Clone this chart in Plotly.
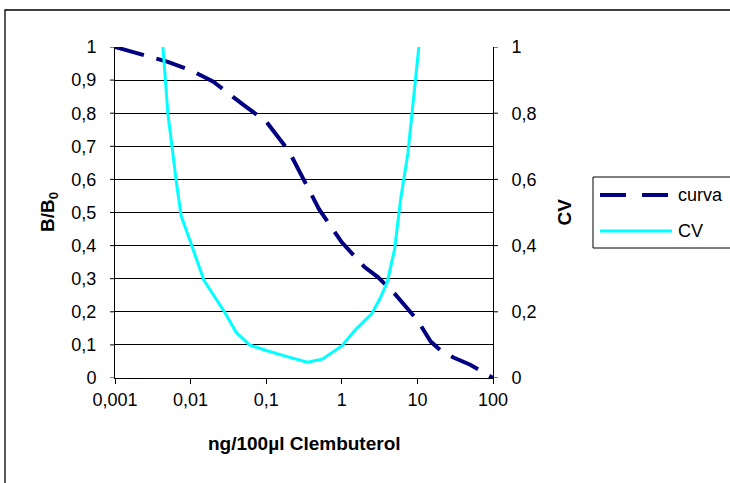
import plotly.graph_objects as go

# Competitive ELISA standard curve for clenbuterol (log dose axis)
dose_curva = [0.001, 0.002, 0.005, 0.01, 0.02, 0.05, 0.1, 0.2, 0.3, 0.5,
              1, 2, 3, 5, 10, 15, 20, 30, 50, 100]
b_b0 = [1.0, 0.98, 0.955, 0.93, 0.895, 0.825, 0.775, 0.685, 0.61, 0.51,
        0.41, 0.335, 0.305, 0.255, 0.175, 0.11, 0.085, 0.062, 0.04, 0.0]

# Coefficient of variation profile along the same dose range
dose_cv = [0.004, 0.005, 0.0065, 0.0075, 0.01, 0.015, 0.028, 0.04, 0.06, 0.1,
           0.2, 0.35, 0.55, 1.0, 1.5, 2.5, 3.2, 4.0, 5.0, 6.0, 7.5, 9.0, 11.0]
cv = [1.1, 0.8, 0.59, 0.49, 0.41, 0.295, 0.2, 0.138, 0.1, 0.083,
      0.063, 0.048, 0.057, 0.097, 0.145, 0.195, 0.24, 0.29, 0.39, 0.54,
      0.68, 0.85, 1.05]

x_tickvals = [0.001, 0.01, 0.1, 1, 10, 100]
x_ticktext = ["0,001", "0,01", "0,1", "1", "10", "100"]
y_tickvals = [0, 0.1, 0.2, 0.3, 0.4, 0.5, 0.6, 0.7, 0.8, 0.9, 1]
y2_tickvals = [0, 0.2, 0.4, 0.6, 0.8, 1]

name_curva = "curva"
name_cv = "CV"

W, H = 730, 483
L, R, T, B = 115, 493, 47, 378  # plot area edges in pixels


def px(x):
    return (x - L) / (R - L)


def py(y):
    return (B - y) / (B - T)


FONT = "Liberation Sans, Arial, sans-serif"
NAVY = "#000080"
CYAN = "#00FFFF"
DASH = "30px,13px"
TICK_SIZE = 18
TITLE_SIZE = 19
TICK_MARK = 5     # visible tick mark length
LABEL_GAP = 14    # distance from vertical axis line to its tick labels

fig = go.Figure()
fig.add_trace(go.Scatter(x=dose_curva, y=b_b0, mode="lines", name=name_curva,
                         line=dict(color=NAVY, width=4, dash=DASH)))
fig.add_trace(go.Scatter(x=dose_cv, y=cv, mode="lines", name=name_cv, yaxis="y2",
                         line=dict(color=CYAN, width=3)))

tick_font = dict(family=FONT, size=TICK_SIZE, color="black")

fig.update_layout(
    width=W, height=H,
    margin=dict(l=L, r=W - R, t=T, b=H - B),
    paper_bgcolor="white", plot_bgcolor="white",
    separators=", ",
    showlegend=False,
    font=dict(family=FONT, color="black"),
    xaxis=dict(type="log", range=[-3, 2], tickvals=x_tickvals, ticktext=x_ticktext,
               showgrid=False, zeroline=False, showline=True, linecolor="black",
               linewidth=1, ticks="outside", ticklen=TICK_MARK, tickcolor="black",
               tickfont=tick_font),
    # the vertical axes use transparent long ticks to space the labels;
    # the short visible tick marks are added as shapes below
    yaxis=dict(range=[0, 1], tickvals=y_tickvals, showgrid=True, gridcolor="black",
               gridwidth=1, zeroline=False, showline=True, linecolor="black",
               linewidth=1, ticks="outside", ticklen=LABEL_GAP,
               tickcolor="rgba(0,0,0,0)", tickfont=tick_font),
    yaxis2=dict(range=[0, 1], tickvals=y2_tickvals, overlaying="y", side="right",
                showgrid=False, zeroline=False, showline=True, linecolor="black",
                linewidth=1, ticks="outside", ticklen=LABEL_GAP,
                tickcolor="rgba(0,0,0,0)", tickfont=tick_font),
)

shapes = [
    # outer chart frame
    dict(type="rect", xref="paper", yref="paper",
         x0=px(5), y0=py(500), x1=px(750), y1=py(10),
         line=dict(color="black", width=1.3), layer="below"),
    # legend frame and its line samples
    dict(type="rect", xref="paper", yref="paper",
         x0=px(593), y0=py(248), x1=px(760), y1=py(177),
         line=dict(color="black", width=1), fillcolor="white"),
    dict(type="line", xref="paper", yref="paper",
         x0=px(600), y0=py(195), x1=px(672), y1=py(195),
         line=dict(color=NAVY, width=4, dash="26px,16px")),
    dict(type="line", xref="paper", yref="paper",
         x0=px(600), y0=py(231), x1=px(672), y1=py(231),
         line=dict(color=CYAN, width=3)),
]
for v in y_tickvals:
    shapes.append(dict(type="line", xref="paper", yref="y",
                       x0=px(L - TICK_MARK), x1=0, y0=v, y1=v,
                       line=dict(color="black", width=1)))
for v in y2_tickvals:
    shapes.append(dict(type="line", xref="paper", yref="y2",
                       x0=1, x1=px(R + TICK_MARK), y0=v, y1=v,
                       line=dict(color="black", width=1)))

annotations = [
    dict(text="<b>B/B<sub>0</sub></b>", xref="paper", yref="paper",
         x=px(35), y=py(212), showarrow=False, textangle=-90,
         font=dict(family=FONT, size=TITLE_SIZE, color="black")),
    dict(text="<b>CV</b>", xref="paper", yref="paper",
         x=px(576), y=py(212), showarrow=False, textangle=-90,
         font=dict(family=FONT, size=TITLE_SIZE, color="black")),
    dict(text="<b>ng/100µl Clembuterol</b>", xref="paper", yref="paper",
         x=px(304), y=py(456), showarrow=False,
         font=dict(family=FONT, size=TITLE_SIZE, color="black")),
    dict(text=name_curva, xref="paper", yref="paper", xanchor="left",
         x=px(676), y=py(195), showarrow=False,
         font=dict(family=FONT, size=TICK_SIZE, color="black")),
    dict(text=name_cv, xref="paper", yref="paper", xanchor="left",
         x=px(676), y=py(231), showarrow=False,
         font=dict(family=FONT, size=TICK_SIZE, color="black")),
]

fig.update_layout(shapes=shapes, annotations=annotations)
fig.write_html("out.html")
